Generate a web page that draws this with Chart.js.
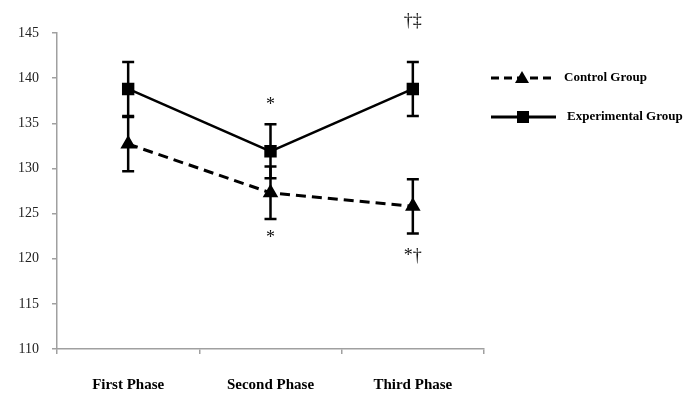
<!DOCTYPE html>
<html>
<head>
<meta charset="utf-8">
<script src="https://cdn.jsdelivr.net/npm/chart.js@4/dist/chart.umd.min.js"></script>
<style>
  html, body { margin: 0; padding: 0; background: #fff; }
  #wrap { width: 688px; height: 396px; }
</style>
</head>
<body>
<div id="wrap"><canvas id="grafico"></canvas></div>
<script>
// dados
const fases = ['First Phase', 'Second Phase', 'Third Phase'];
const controle = [132.7, 127.3, 125.8];
const controleErro = [3.0, 2.9, 3.0];
const experimental = [138.8, 131.9, 138.8];
const experimentalErro = [3.0, 3.0, 3.0];
const yTicks = [110, 115, 120, 125, 130, 135, 140, 145];

// marcas de significância: [indice, valor y, texto]
const notas = [
    [1, 137.0, '*'],
    [1, 122.3, '*'],
    [2, 146.3, '†‡'],
    [2, 120.3, '*†']
];

const serif = '"Liberation Serif", "Times New Roman", serif';

// barras de erro desenhadas pelas escalas
const barrasErro = {
    id: 'barrasErro',
    afterDatasetsDraw(chart) {
        const ctx = chart.ctx;
        const x = chart.scales.x, y = chart.scales.y;
        const series = [[controle, controleErro], [experimental, experimentalErro]];
        ctx.save();
        ctx.strokeStyle = '#000';
        ctx.lineWidth = 2.5;
        series.forEach(([vals, errs]) => {
            vals.forEach((v, i) => {
                const px = x.getPixelForValue(i);
                const top = y.getPixelForValue(v + errs[i]);
                const bot = y.getPixelForValue(v - errs[i]);
                ctx.beginPath();
                ctx.moveTo(px, top); ctx.lineTo(px, bot);
                ctx.moveTo(px - 6, top); ctx.lineTo(px + 6, top);
                ctx.moveTo(px - 6, bot); ctx.lineTo(px + 6, bot);
                ctx.stroke();
            });
        });
        // anotações
        ctx.fillStyle = '#111';
        ctx.font = '18px ' + serif;
        ctx.textAlign = 'center';
        ctx.textBaseline = 'middle';
        notas.forEach(([i, v, t]) => {
            ctx.fillText(t, x.getPixelForValue(i), y.getPixelForValue(v));
        });
        ctx.restore();
    }
};

// legenda à direita
const legendaLateral = {
    id: 'legendaLateral',
    afterDraw(chart) {
        const ctx = chart.ctx;
        const itens = [
            { nome: 'Control Group', dash: [8, 5], forma: 'tri', y: 78, tx: 564 },
            { nome: 'Experimental Group', dash: [], forma: 'sq', y: 117, tx: 567 }
        ];
        ctx.save();
        itens.forEach(it => {
            ctx.strokeStyle = '#000';
            ctx.lineWidth = 3;
            ctx.setLineDash(it.dash);
            ctx.beginPath();
            ctx.moveTo(491, it.y); ctx.lineTo(556, it.y);
            ctx.stroke();
            ctx.setLineDash([]);
            ctx.fillStyle = '#000';
            if (it.forma === 'tri') {
                ctx.beginPath();
                ctx.moveTo(522, it.y - 7); ctx.lineTo(529, it.y + 5); ctx.lineTo(515, it.y + 5);
                ctx.closePath(); ctx.fill();
            } else {
                ctx.fillRect(517, it.y - 6, 12, 12);
            }
            ctx.font = 'bold 13px ' + serif;
            ctx.textAlign = 'left';
            ctx.textBaseline = 'middle';
            ctx.fillText(it.nome, it.tx, it.y);
        });
        ctx.restore();
    }
};

new Chart(document.getElementById('grafico'), {
    type: 'line',
    data: {
        labels: fases,
        datasets: [
            {
                label: 'Control Group',
                data: controle,
                borderColor: '#000',
                backgroundColor: '#000',
                borderWidth: 3,
                borderDash: [10, 6],
                pointStyle: 'triangle',
                pointRadius: 6,
                pointHoverRadius: 6,
                tension: 0
            },
            {
                label: 'Experimental Group',
                data: experimental,
                borderColor: '#000',
                backgroundColor: '#000',
                borderWidth: 2.5,
                pointStyle: 'rect',
                pointRadius: 7,
                pointHoverRadius: 7,
                tension: 0
            }
        ]
    },
    options: {
        responsive: true,
        maintainAspectRatio: false,
        animation: false,
        events: [],
        layout: { padding: { top: 33, right: 204, left: 0, bottom: 0 } },
        plugins: {
            legend: { display: false },
            tooltip: { enabled: false }
        },
        scales: {
            x: {
                offset: true,
                grid: { offset: true, drawOnChartArea: false, color: '#a0a0a0', tickLength: 5, lineWidth: 1.5 },
                border: { color: '#a0a0a0', width: 1.5 },
                ticks: { color: '#000', padding: 22, font: { family: serif, size: 15, weight: 'bold' } },
                afterFit(s) { s.height = 47; }
            },
            y: {
                min: 110,
                max: 145,
                afterBuildTicks(s) { s.ticks = yTicks.map(v => ({ value: v })); },
                grid: { drawOnChartArea: false, color: '#a0a0a0', tickLength: 5, lineWidth: 1.5 },
                border: { color: '#a0a0a0', width: 1.5 },
                ticks: { color: '#222', padding: 13, font: { family: serif, size: 14 } },
                afterFit(s) { s.width = 57; }
            }
        }
    },
    plugins: [barrasErro, legendaLateral]
});
</script>
</body>
</html>
